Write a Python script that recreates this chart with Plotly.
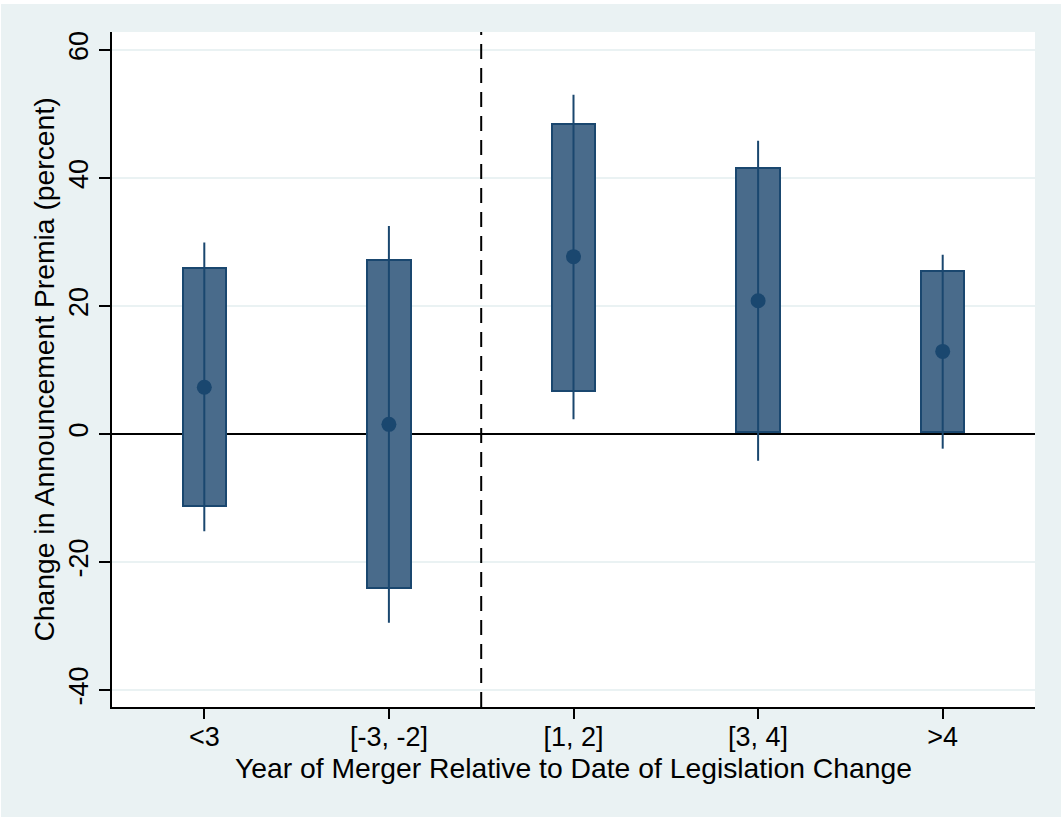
import plotly.graph_objects as go

categories = ["<3", "[-3, -2]", "[1, 2]", "[3, 4]", ">4"]
point_est = [7.3, 1.5, 27.7, 20.8, 12.9]
box_low = [-11.2, -24.0, 6.7, 0.25, 0.35]
box_high = [25.9, 27.2, 48.5, 41.5, 25.4]
whisk_low = [-15.2, -29.5, 2.3, -4.2, -2.3]
whisk_high = [29.9, 32.5, 53.0, 45.8, 28.0]
y_ticks = [-40, -20, 0, 20, 40, 60]
y_ticktext = ["-40", "-20", "0", "20", "40", "60"]

xpos = list(range(1, len(categories) + 1))
FILL = "#496b8b"
NAVY = "#1a476f"
BG = "#eaf2f3"
FONT = "Liberation Sans, Arial, sans-serif"

fig = go.Figure()
fig.add_trace(go.Bar(
    x=xpos, base=box_low, y=[h - l for h, l in zip(box_high, box_low)],
    width=0.235, marker=dict(color=FILL, line=dict(color=NAVY, width=2)),
    showlegend=False, hoverinfo="skip"))

wx, wy = [], []
for x, lo, hi in zip(xpos, whisk_low, whisk_high):
    wx += [x, x, None]
    wy += [lo, hi, None]
fig.add_trace(go.Scatter(x=wx, y=wy, mode="lines", line=dict(color=NAVY, width=2),
                         showlegend=False, hoverinfo="skip"))
fig.add_trace(go.Scatter(x=xpos, y=point_est, mode="markers",
                         marker=dict(color=NAVY, size=15), showlegend=False))

fig.add_shape(type="line", xref="x", yref="paper", x0=2.5, x1=2.5, y0=0, y1=1,
              line=dict(color="black", width=2, dash="15px,9px"))

fig.update_layout(
    width=1060, height=813,
    margin=dict(l=111, r=26, t=28, b=110, autoexpand=False),
    paper_bgcolor=BG, plot_bgcolor="white",
    font=dict(family=FONT, size=27, color="black"),
    bargap=0,
    xaxis=dict(range=[0.5, 5.5], tickvals=xpos, ticktext=categories,
               ticks="outside", ticklen=10, tickwidth=1.5, tickcolor="black",
               showline=True, linecolor="black", linewidth=1.5,
               showgrid=False, zeroline=False, automargin=False,
               tickfont=dict(size=27), ticklabelstandoff=-5,
               title=dict(text="Year of Merger Relative to Date of Legislation Change",
                          font=dict(size=28.3), standoff=0)),
    yaxis=dict(range=[-42.66, 62.8], tickvals=y_ticks, ticktext=y_ticktext,
               tickangle=-90,
               ticks="outside", ticklen=11, tickwidth=1.5, tickcolor="black",
               showline=True, linecolor="black", linewidth=1.5,
               showgrid=True, gridcolor=BG, gridwidth=2,
               zeroline=True, zerolinecolor="black", zerolinewidth=2,
               automargin=False, tickfont=dict(size=27),
               title=dict(text="Change in Announcement Premia (percent)",
                          font=dict(size=28.3), standoff=2)),
)
fig.write_html("out.html",
               post_script="document.body.style.margin='4px 0 0 1px';document.body.style.background='white';document.body.style.overflow='hidden';")
